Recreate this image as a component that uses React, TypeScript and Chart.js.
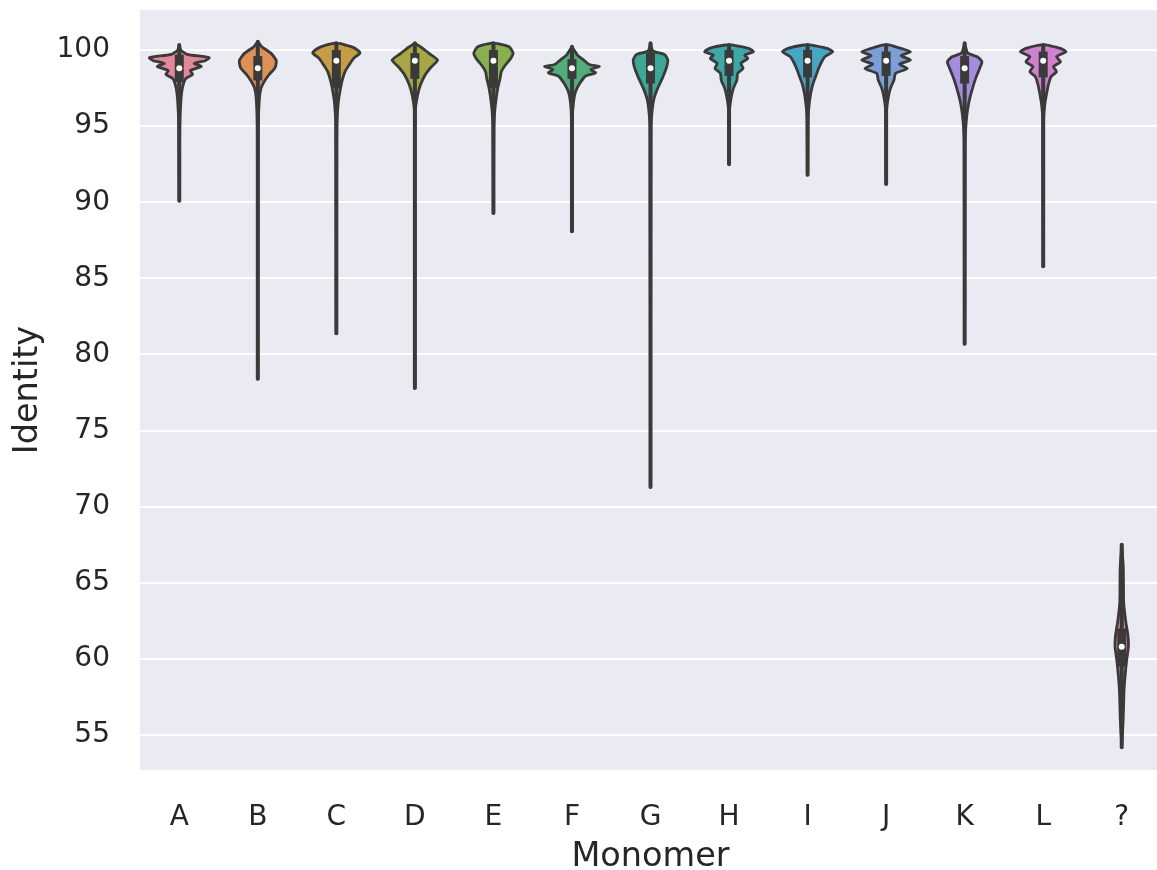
import { useEffect, useRef } from 'react';
import { Chart, registerables } from 'chart.js';

Chart.register(...registerables);

const categories = ['A', 'B', 'C', 'D', 'E', 'F', 'G', 'H', 'I', 'J', 'K', 'L', '?'];
const colors = ['#e4879b', '#de9157', '#c49d46', '#a7a843', '#88b04e', '#51ae7b', '#3ea898', '#3da8a6', '#47a6c4', '#7b9fd8', '#a68bde', '#d07fd1', '#e07fa6'];
const yTicks = [55, 60, 65, 70, 75, 80, 85, 90, 95, 100];

const mins = [90.1, 78.4, 81.4, 77.8, 89.3, 88.1, 71.3, 92.5, 91.8, 91.2, 80.7, 85.8, 54.2];
const q1s = [97.9, 98.0, 97.5, 98.1, 97.5, 98.1, 97.8, 98.3, 98.2, 98.3, 97.8, 98.2, 59.5];
const medians = [98.8, 98.8, 99.3, 99.3, 99.3, 98.8, 98.8, 99.3, 99.3, 99.3, 98.8, 99.3, 60.8];
const q3s = [99.7, 99.6, 100.0, 99.8, 100.0, 99.4, 99.8, 100.0, 100.0, 99.9, 99.6, 99.9, 62.0];
const maxs = [100.33, 100.55, 100.44, 100.44, 100.44, 100.22, 100.44, 100.33, 100.33, 100.33, 100.44, 100.33, 67.5];

// violin density profiles: [identity, half-width in category units]
const profileA = [[100.33, 0], [100.0, 0.02], [99.72, 0.1], [99.5, 0.38], [99.3, 0.33], [99.12, 0.19], [98.92, 0.28], [98.65, 0.14], [98.4, 0.17], [98.1, 0.08], [97.5, 0.04], [96.6, 0.02], [95, 0.006]];
const profileB = [[100.55, 0], [100.22, 0.05], [99.78, 0.17], [99.3, 0.235], [98.85, 0.22], [98.36, 0.14], [97.92, 0.08], [97.48, 0.04], [96.8, 0.02], [95, 0.006]];
const profileC = [[100.44, 0.04], [100.22, 0.19], [100.0, 0.27], [99.8, 0.3], [99.45, 0.22], [99.0, 0.16], [98.58, 0.11], [97.92, 0.07], [97.26, 0.045], [96.6, 0.025], [95, 0.006]];
const profileD = [[100.44, 0], [100.11, 0.1], [99.78, 0.18], [99.34, 0.29], [98.9, 0.21], [98.36, 0.13], [97.7, 0.07], [97.04, 0.035], [96, 0.006]];
const profileE = [[100.44, 0.04], [100.22, 0.2], [99.8, 0.25], [99.45, 0.22], [99.0, 0.15], [98.58, 0.1], [98.14, 0.085], [97.48, 0.055], [96.82, 0.035], [96.17, 0.02], [95, 0.006]];
const profileF = [[100.22, 0], [99.67, 0.07], [99.34, 0.15], [99.05, 0.22], [98.92, 0.35], [98.72, 0.24], [98.5, 0.3], [98.28, 0.17], [97.81, 0.1], [97.26, 0.045], [96.6, 0.02], [95.5, 0.006]];
const profileG = [[100.44, 0], [99.95, 0.03], [99.7, 0.18], [99.34, 0.22], [98.79, 0.2], [98.14, 0.15], [97.48, 0.09], [96.82, 0.045], [96.2, 0.025], [95, 0.006]];
const profileH = [[100.33, 0.05], [100.11, 0.25], [99.89, 0.31], [99.67, 0.2], [99.45, 0.24], [99.12, 0.15], [98.79, 0.18], [98.47, 0.11], [98.03, 0.1], [97.48, 0.055], [96.82, 0.025], [96, 0.006]];
const profileI = [[100.33, 0.05], [100.11, 0.25], [99.89, 0.32], [99.56, 0.22], [99.23, 0.18], [98.79, 0.14], [98.36, 0.11], [97.81, 0.07], [97.15, 0.04], [96.4, 0.02], [95.5, 0.006]];
const profileJ = [[100.33, 0.05], [100.11, 0.19], [99.89, 0.31], [99.63, 0.19], [99.34, 0.31], [99.07, 0.17], [98.79, 0.27], [98.47, 0.12], [98.03, 0.1], [97.48, 0.055], [96.82, 0.025], [96, 0.006]];
const profileK = [[100.44, 0], [99.8, 0.04], [99.56, 0.16], [99.23, 0.22], [98.79, 0.19], [98.14, 0.14], [97.48, 0.1], [96.82, 0.065], [96.17, 0.04], [95.3, 0.02], [94, 0.006]];
const profileL = [[100.33, 0.05], [100.11, 0.22], [99.89, 0.29], [99.56, 0.17], [99.23, 0.22], [98.9, 0.13], [98.58, 0.17], [98.25, 0.1], [97.7, 0.065], [97.04, 0.04], [96.4, 0.02], [95.5, 0.006]];
const profileQ = [[67.5, 0], [66, 0.02], [63.7, 0.025], [62.5, 0.05], [61.5, 0.08], [60.8, 0.085], [60, 0.065], [59.3, 0.05], [58, 0.03], [56, 0.018]];

const profiles = [profileA, profileB, profileC, profileD, profileE, profileF, profileG, profileH, profileI, profileJ, profileK, profileL, profileQ];

const GRAY = '#3a3a3a';
const TEXT = '#262626';
const FONT = 'DejaVu Sans';

const bgPlugin = {
  id: 'plotBg',
  beforeDraw(chart: any) {
    const { ctx, chartArea } = chart;
    ctx.save();
    ctx.fillStyle = '#EAEAF2';
    ctx.fillRect(chartArea.left, chartArea.top, chartArea.right - chartArea.left, chartArea.bottom - chartArea.top);
    ctx.restore();
  },
};

export default function App() {
  const ref = useRef<HTMLCanvasElement>(null);

  useEffect(() => {
    const datasets: any[] = [];
    categories.forEach((cat, i) => {
      const prof = [...profiles[i], [mins[i], 0]];
      const right = prof.map(([v, w]) => ({ x: i + w, y: v }));
      const left = prof.slice().reverse().map(([v, w]) => ({ x: i - w, y: v }));
      const pts = [...right, ...left.slice(1), right[0]];
      datasets.push({
        type: 'scatter',
        label: cat + ' violin',
        data: pts,
        showLine: true,
        fill: 'shape',
        backgroundColor: colors[i],
        borderColor: GRAY,
        borderWidth: 2.8,
        pointRadius: 0,
        tension: 0.2,
        order: 3,
      });
      datasets.push({
        type: 'scatter',
        label: cat + ' whisker',
        data: [{ x: i, y: mins[i] }, { x: i, y: maxs[i] }],
        showLine: true,
        fill: false,
        borderColor: GRAY,
        borderWidth: 4,
        borderCapStyle: 'round',
        pointRadius: 0,
        order: 2,
      });
      datasets.push({
        type: 'scatter',
        label: cat + ' box',
        data: [{ x: i, y: q1s[i] }, { x: i, y: q3s[i] }],
        showLine: true,
        fill: false,
        borderColor: GRAY,
        borderWidth: 9,
        borderCapStyle: 'butt',
        pointRadius: 0,
        order: 1,
      });
    });
    datasets.push({
      type: 'scatter',
      label: 'median',
      data: medians.map((m, i) => ({ x: i, y: m })),
      showLine: false,
      pointRadius: 3,
      pointBackgroundColor: '#ffffff',
      pointBorderWidth: 0,
      order: 0,
    });

    const chart = new Chart(ref.current as HTMLCanvasElement, {
      type: 'scatter',
      data: { datasets },
      options: {
        responsive: false,
        animation: false,
        events: [],
        devicePixelRatio: 1,
        layout: { padding: { top: 10, left: 0, right: 0, bottom: 0 } },
        plugins: { legend: { display: false }, tooltip: { enabled: false } },
        scales: {
          x: {
            type: 'linear',
            min: -0.5,
            max: 12.5,
            afterBuildTicks: (s: any) => {
              s.ticks = categories.map((_, i) => ({ value: i }));
            },
            afterFit: (s: any) => {
              s.height = 110;
              s.paddingLeft = 0;
              s.paddingRight = 0;
            },
            grid: { display: false },
            border: { display: false },
            ticks: {
              callback: (v: any) => categories[v] ?? '',
              font: { family: FONT, size: 28 },
              color: TEXT,
              padding: 23,
              autoSkip: false,
              maxRotation: 0,
            },
            title: {
              display: true,
              text: 'Monomer',
              font: { family: FONT, size: 33.5 },
              color: TEXT,
              padding: { top: 0, bottom: 3 },
            },
          },
          y: {
            type: 'linear',
            min: 52.7,
            max: 102.63,
            afterBuildTicks: (s: any) => {
              s.ticks = yTicks.map((v) => ({ value: v }));
            },
            afterFit: (s: any) => {
              s.width = 140;
              s.paddingTop = 0;
              s.paddingBottom = 0;
            },
            grid: { color: '#ffffff', lineWidth: 2, drawTicks: false },
            border: { display: false },
            ticks: {
              font: { family: FONT, size: 28 },
              color: TEXT,
              padding: 30,
            },
            title: {
              display: true,
              text: 'Identity',
              font: { family: FONT, size: 33.5 },
              color: TEXT,
              padding: { top: 8, bottom: 0 },
            },
          },
        },
      },
      plugins: [bgPlugin],
    } as any);
    return () => chart.destroy();
  }, []);

  return (
    <div style={{ position: 'absolute', left: 0, top: 0, width: 1157, height: 870, overflow: 'hidden', background: '#ffffff' }}>
      <canvas ref={ref} width={1165} height={880} style={{ width: 1165, height: 880, display: 'block' }} />
    </div>
  );
}
